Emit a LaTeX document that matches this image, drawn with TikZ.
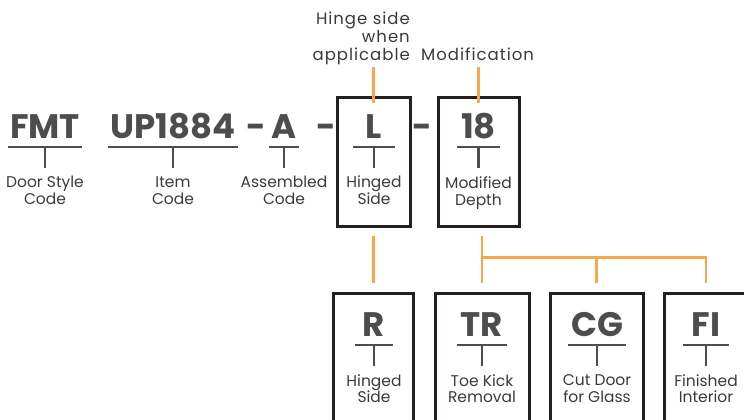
\documentclass[tikz,border=0pt]{standalone}
\usepackage{fontspec}
\setmainfont{Poppins}
\usetikzlibrary{positioning}
\definecolor{codegray}{HTML}{4D4D4D}
\definecolor{textgray}{HTML}{3A3A3A}
\definecolor{boxblack}{HTML}{231F20}
\definecolor{optorange}{HTML}{F6A84A}

\begin{document}
\begin{tikzpicture}[x=1pt, y=-1pt,
  code/.style={anchor=base, font=\fontsize{34}{34}\selectfont\bfseries, text=codegray, inner xsep=0pt, inner ysep=9pt, text depth=0pt, minimum width=#1},
  desc/.style={anchor=north, align=center, font=\fontsize{15.5}{17}\selectfont, text=textgray, inner xsep=0pt, inner ysep=8pt},
  note/.style={font=\fontsize{16.5}{18}\selectfont\addfontfeature{LetterSpace=6}, text=textgray, inner xsep=0pt, inner ysep=2pt},
  hyph/.style={anchor=base, font=\fontsize{34}{34}\selectfont\bfseries, text=codegray, inner sep=0pt},
  rule/.style={draw=codegray, line width=2.5pt},
  frame/.style={draw=boxblack, line width=3pt, minimum width=#1},
  branch/.style={draw=optorange, line width=2.5pt}
]
\clip (0,0) rectangle (744,420);

% Option boxes
\node[frame=73, minimum height=129] (lbox) at (373.5,161.5) {};
\node[frame=81, minimum height=129] (dbox) at (478.5,161.5) {};
\node[frame=80, minimum height=160] (rbox) at (373.5,373) {};
\node[frame=94, minimum height=160] (trbox) at (482,373) {};
\node[frame=93, minimum height=160] (cgbox) at (596.5,373) {};
\node[frame=84, minimum height=160] (fibox) at (706,373) {};

% Codes, top row
\node[code=74] (fmt) at (45,138) {FMT};
\node[code=130] (item) at (173,138) {UP1884};
\node[code=30] (asm) at (284,138) {A};
\node[code=42] (hng) at (374,138) {L};
\node[code=43] (dep) at (478.5,138) {18};
\node[hyph] (sep1) at (256,138) {-};
\node[hyph] (sep2) at (326,138) {-};
\node[hyph] (sep3) at (422,138) {-};

% Codes, bottom row
\node[code=38] (r) at (374,336) {R};
\node[code=50] (tr) at (482,336) {TR};
\node[code=58] (cg) at (597,336) {CG};
\node[code=46] (fi) at (706,336) {FI};

% Descriptions
\node[desc] (fmt-d) at (45,168) {Door Style\\Code};
\node[desc] (item-d) at (173,168) {Item\\Code};
\node[desc] (asm-d) at (284,168) {Assembled\\Code};
\node[desc] (hng-d) at (374,168) {Hinged\\Side};
\node[desc] (dep-d) at (478.5,168) {Modified\\Depth};
\node[desc] (r-d) at (374,366) {Hinged\\Side};
\node[desc] (tr-d) at (482,366) {Toe Kick\\Removal};
\node[desc] (cg-d) at (597,366) {Cut Door\\for Glass};
\node[desc] (fi-d) at (706,366) {Finished\\Interior};

% Notes above
\node[note, anchor=south east, align=right] (hinge) at (410,67) {Hinge side\\when\\applicable};
\node[note, anchor=base west] (mod) at (421,61) {Modification};

% Underlines and stems
\foreach \c in {fmt,item,asm,hng,dep,r,tr,cg,fi}{
  \draw[rule] (\c.south west) -- (\c.south east);
  \draw[rule] (\c.south) -- (\c-d.north);
}

% Orange links
\draw[branch] (lbox.north |- hinge.south) -- ([yshift=-7pt]lbox.north);
\draw[branch] (dbox.north |- hinge.south) -- ([yshift=-7pt]dbox.north);
\draw[branch] (lbox.south) ++(0,8) -- ([yshift=9pt]rbox.north);
\draw[branch] (trbox.north |- dbox.south) ++(0,8) -- ([yshift=9pt]trbox.north);
\path (trbox.north) ++(0,-34) coordinate (fork);
\draw[branch] (fork) -| ([yshift=9pt]fibox.north);
\draw[branch] (fork -| cgbox.north) -- ([yshift=9pt]cgbox.north);

\end{tikzpicture}
\end{document}
